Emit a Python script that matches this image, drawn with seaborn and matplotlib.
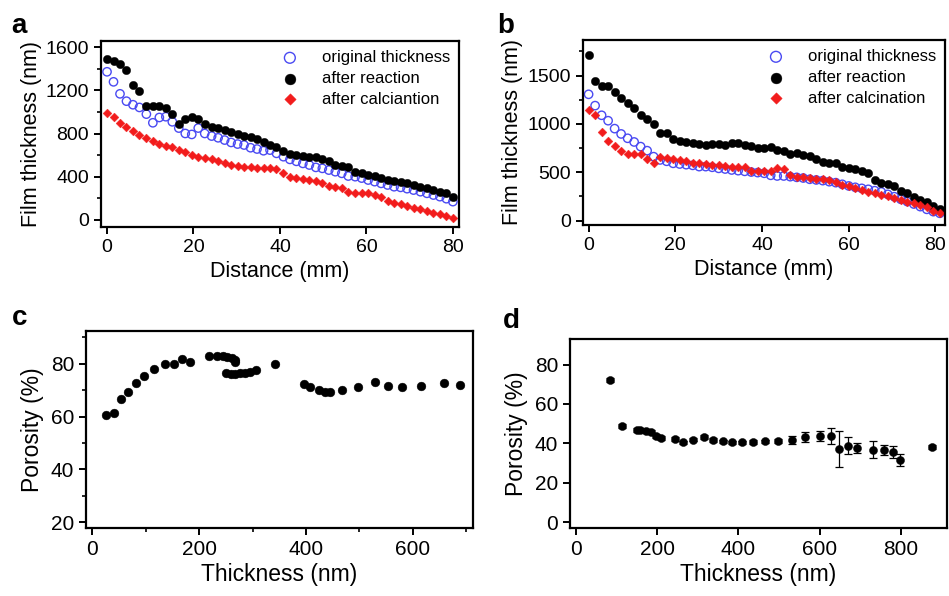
import numpy as np
import pandas as pd
import matplotlib
matplotlib.use("Agg")
import matplotlib.pyplot as plt
from matplotlib.ticker import MultipleLocator
import seaborn as sns

# ---- panel a: film thickness along the substrate ----
dist_a = [0.0, 1.5, 3.0, 4.5, 6.0, 7.5, 9.1, 10.6, 12.1, 13.6, 15.1, 16.6, 18.1, 19.6,
          21.1, 22.6, 24.2, 25.7, 27.2, 28.7, 30.2, 31.7, 33.2, 34.7, 36.2, 37.7, 39.2,
          40.8, 42.3, 43.8, 45.3, 46.8, 48.3, 49.8, 51.3, 52.8, 54.3, 55.8, 57.4, 58.9,
          60.4, 61.9, 63.4, 64.9, 66.4, 67.9, 69.4, 70.9, 72.5, 74.0, 75.5, 77.0, 78.5, 80.0]
orig_a = [1372, 1279, 1168, 1100, 1067, 1042, 980, 900, 949, 956,
          909, 851, 801, 792, 851, 801, 777, 761, 740, 718,
          703, 694, 669, 657, 641, 647, 617, 586, 561, 543,
          524, 509, 487, 478, 462, 447, 432, 407, 401, 388,
          370, 355, 339, 324, 308, 302, 290, 277, 262, 247,
          231, 216, 197, 170]
react_a = [1495, 1470, 1443, 1387, 1248, 1196, 1054, 1054, 1054, 1033,
           980, 888, 934, 949, 931, 885, 863, 854, 832, 814,
           795, 777, 764, 752, 724, 694, 678, 641, 610, 598,
           592, 586, 586, 567, 546, 509, 499, 493, 447, 438,
           419, 407, 388, 370, 361, 351, 339, 321, 308, 293,
           277, 262, 247, 216]
calc_a = [986, 949, 900, 857, 826, 789, 761, 731, 703, 684,
          672, 647, 632, 601, 586, 576, 561, 546, 524, 509,
          499, 493, 493, 484, 484, 478, 469, 432, 401, 385,
          376, 370, 364, 339, 314, 302, 293, 262, 253, 253,
          247, 231, 216, 179, 160, 145, 129, 114, 99, 83,
          68, 52, 37, 15]

# ---- panel b ----
dist_b = [0.0, 1.5, 3.0, 4.5, 6.0, 7.5, 9.0, 10.5, 12.0, 13.5, 15.0, 16.5, 18.0, 19.5,
          21.0, 22.5, 24.0, 25.5, 27.0, 28.5, 30.0, 31.5, 33.0, 34.5, 36.0, 37.5, 39.0,
          40.5, 42.0, 43.5, 45.0, 46.5, 48.0, 49.5, 51.0, 52.5, 54.0, 55.5, 57.0, 58.5,
          60.0, 61.5, 63.0, 64.5, 66.0, 67.5, 69.0, 70.5, 72.0, 73.5, 75.0, 76.5, 78.0,
          79.5, 81.0]
orig_b = [1307, 1190, 1090, 1034, 952, 897, 852, 814, 766, 724,
          662, 628, 614, 593, 586, 579, 572, 559, 559, 552,
          541, 534, 524, 517, 510, 503, 497, 490, 469, 462,
          462, 455, 448, 441, 428, 421, 414, 403, 393, 376,
          359, 345, 334, 324, 310, 297, 272, 248, 221, 197,
          172, 145, 117, 93, 76]
react_b = [1714, 1448, 1393, 1393, 1331, 1269, 1214, 1162, 1090, 1055,
           1000, 910, 910, 841, 828, 814, 800, 793, 786, 793,
           793, 786, 807, 800, 779, 772, 755, 748, 759, 731,
           717, 690, 703, 683, 669, 641, 610, 593, 593, 559,
           548, 531, 517, 490, 421, 393, 376, 359, 310, 283,
           248, 214, 197, 152, 117]
calc_b = [1145, 1093, 917, 828, 776, 724, 690, 690, 690, 634,
          593, 655, 648, 641, 628, 614, 600, 593, 586, 579,
          572, 566, 559, 559, 552, 517, 517, 510, 510, 541,
          531, 476, 455, 448, 441, 434, 428, 421, 403, 369,
          359, 338, 317, 297, 283, 262, 255, 234, 214, 197,
          179, 162, 145, 103, 83]

# ---- panel c: porosity vs thickness ----
thick_c = [26, 41, 54, 67, 82, 97, 115, 136, 153, 168, 182,
           219, 233, 245, 253, 261, 267, 268,
           250, 259, 267, 276, 286, 295, 306,
           342, 396, 407, 424, 435, 446, 468, 498, 530, 553, 580, 615, 658, 689]
poro_c = [60.5, 61.5, 66.5, 69.3, 72.6, 75.3, 78.0, 79.7, 80.0, 81.6, 80.5,
          83.0, 83.0, 83.0, 82.6, 82.0, 81.4, 80.6,
          76.4, 76.1, 76.1, 76.4, 76.6, 77.0, 77.6,
          79.9, 72.2, 71.3, 70.1, 69.4, 69.4, 70.1, 71.1, 73.2, 71.7, 71.3, 71.7, 72.6, 72.0]

# ---- panel d: porosity vs thickness with error bars ----
thick_d = [83, 112, 149, 158, 172, 185, 196, 210, 243, 263, 288, 315, 338, 361, 384,
           408, 435, 466, 498, 533, 565, 600, 627, 647, 670, 693, 731, 758, 780, 797, 876]
poro_d = [72.0, 48.6, 46.9, 46.9, 46.1, 45.6, 43.6, 42.7, 42.2, 40.5, 41.9, 43.2, 41.5,
          41.0, 40.5, 40.5, 40.5, 41.0, 41.0, 41.9, 43.2, 43.6, 43.9, 37.1, 38.8, 37.6,
          36.8, 36.8, 35.4, 31.7, 38.1]
err_d = [1.0, 1.0, 1.0, 1.0, 1.0, 1.0, 1.0, 1.0, 1.0, 0.8, 0.8, 1.0, 1.0, 0.8, 0.8,
         0.8, 1.0, 0.8, 1.0, 2.0, 2.7, 2.5, 4.0, 9.2, 4.2, 2.5, 4.2, 2.5, 3.0, 3.0, 1.2]

labels_ab = {
    "a": ["original thickness", "after reaction", "after calciantion"],
    "b": ["original thickness", "after reaction", "after calcination"],
}

sns.set_style("ticks")
plt.rcParams["font.family"] = ["Liberation Sans", "DejaVu Sans"]
plt.rcParams.update({
    "axes.linewidth": 1.6,
    "axes.edgecolor": "black",
    "axes.labelcolor": "black",
    "text.color": "black",
    "xtick.color": "black",
    "ytick.color": "black",
    "xtick.major.width": 1.4,
    "ytick.major.width": 1.4,
    "xtick.minor.width": 1.2,
    "ytick.minor.width": 1.2,
})

BLUE = "#4a4af2"
RED = "#f21c1c"

fig = plt.figure(figsize=(9.49, 5.96), dpi=100)
ax_a = fig.add_axes([0.1064, 0.6191, 0.3772, 0.3121])
ax_b = fig.add_axes([0.6143, 0.6225, 0.3815, 0.3104])
ax_c = fig.add_axes([0.0906, 0.1141, 0.4078, 0.3305])
ax_d = fig.add_axes([0.6006, 0.1141, 0.3973, 0.3171])


def thickness_panel(ax, dist, orig, react, calc, names):
    sns.scatterplot(x=dist, y=orig, ax=ax, marker="o", s=36, facecolor="none",
                    edgecolor=BLUE, linewidth=1.0, label=names[0])
    sns.scatterplot(x=dist, y=react, ax=ax, marker="o", s=36, color="black",
                    edgecolor="black", linewidth=0.3, label=names[1])
    sns.scatterplot(x=dist, y=calc, ax=ax, marker="D", s=20, color=RED,
                    edgecolor=RED, linewidth=0.3, label=names[2])
    ax.set_xlabel("Distance (mm)", fontsize=15.5, labelpad=4)
    ax.set_ylabel("Film thickness (nm)", fontsize=15.5, labelpad=3)
    ax.set_xticks([0, 20, 40, 60, 80])
    ax.tick_params(labelsize=14, length=5, direction="out")
    ax.tick_params(which="minor", length=3, direction="out")
    leg = ax.legend(loc="upper right", frameon=False, fontsize=12, handletextpad=0.9,
                    labelspacing=0.35, borderaxespad=0.15, markerscale=1.3)
    return leg


thickness_panel(ax_a, dist_a, orig_a, react_a, calc_a, labels_ab["a"])
ax_a.set_xlim(-1.4, 81.4)
ax_a.set_ylim(-65, 1657)
ax_a.set_yticks([0, 400, 800, 1200, 1600])
ax_a.yaxis.set_minor_locator(MultipleLocator(200))

thickness_panel(ax_b, dist_b, orig_b, react_b, calc_b, labels_ab["b"])
ax_b.set_xlim(-1.3, 82.2)
ax_b.set_ylim(-45, 1869)
ax_b.set_yticks([0, 500, 1000, 1500])
ax_b.yaxis.set_minor_locator(MultipleLocator(250))

# panel c
sns.scatterplot(x=thick_c, y=poro_c, ax=ax_c, marker="o", s=40, color="black",
                edgecolor="black", linewidth=0.3)
ax_c.set_xlim(-12, 713)
ax_c.set_ylim(17.9, 92.3)
ax_c.set_xticks([0, 200, 400, 600])
ax_c.set_yticks([20, 40, 60, 80])
ax_c.xaxis.set_minor_locator(MultipleLocator(100))
ax_c.yaxis.set_minor_locator(MultipleLocator(10))
ax_c.set_xlabel("Thickness (nm)", fontsize=16.5, labelpad=3)
ax_c.set_ylabel("Porosity (%)", fontsize=16.5, labelpad=5)
ax_c.tick_params(labelsize=15, length=5, direction="out")
ax_c.tick_params(which="minor", length=3, direction="out")

# panel d
ax_d.errorbar(thick_d, poro_d, yerr=err_d, fmt="none", ecolor="black",
              elinewidth=0.9, capsize=3, capthick=0.9, zorder=2)
sns.scatterplot(x=thick_d, y=poro_d, ax=ax_d, marker="o", s=34, color="black",
                edgecolor="black", linewidth=0.3, zorder=3)
ax_d.set_xlim(-15, 914)
ax_d.set_ylim(-3, 93)
ax_d.set_xticks([0, 200, 400, 600, 800])
ax_d.set_yticks([0, 20, 40, 60, 80])
ax_d.set_xlabel("Thickness (nm)", fontsize=16.5, labelpad=3)
ax_d.set_ylabel("Porosity (%)", fontsize=16.5, labelpad=5)
ax_d.tick_params(labelsize=15, length=5, direction="out")

for ax in (ax_a, ax_b, ax_c, ax_d):
    for sp in ax.spines.values():
        sp.set_visible(True)
        sp.set_linewidth(1.6)

# panel letters
for letter, (x, y) in {"a": (11, 33), "b": (497, 33), "c": (12, 325), "d": (503, 328)}.items():
    fig.text(x / 949, 1 - y / 596, letter, fontsize=20, fontweight="bold", ha="left", va="baseline")

fig.savefig("out.png", dpi=100)
